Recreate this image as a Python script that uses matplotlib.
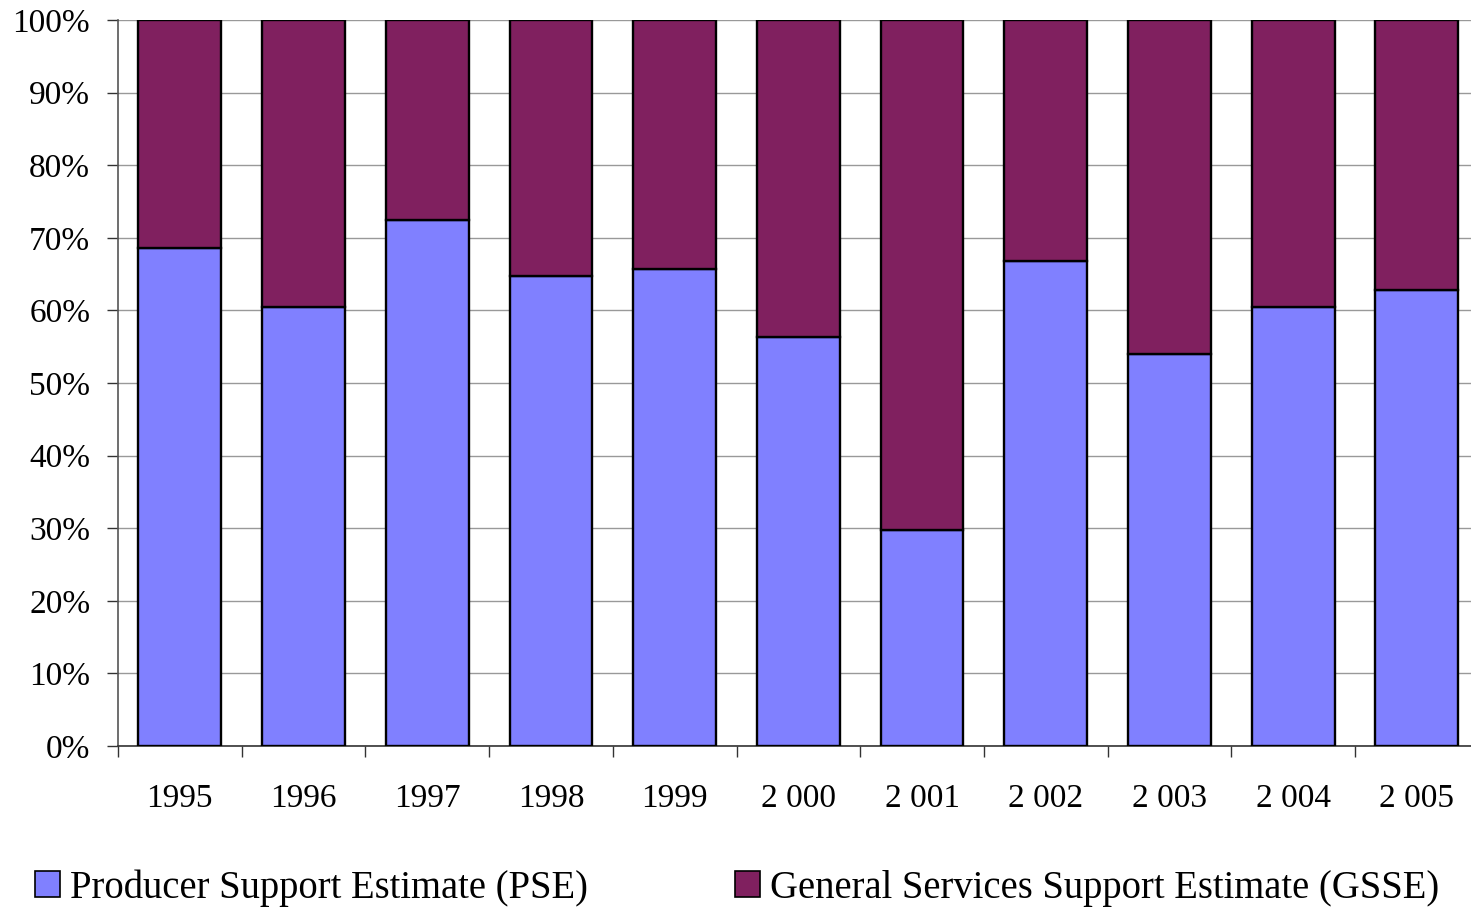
import matplotlib
matplotlib.use("Agg")
import matplotlib.pyplot as plt
from matplotlib.patches import Patch
import numpy as np

# share of total support, in %
years = ["1995", "1996", "1997", "1998", "1999", "2 000", "2 001", "2 002", "2 003", "2 004", "2 005"]
pse = [68.6, 60.5, 72.5, 64.7, 65.7, 56.3, 29.8, 66.8, 54.0, 60.5, 62.8]
gsse = [100 - v for v in pse]

pse_color = "#8080FF"
gsse_color = "#80205F"

plt.rcParams['font.family'] = ['Liberation Serif', 'DejaVu Serif']

W, H = 1471, 908
fig = plt.figure(figsize=(W / 100, H / 100), dpi=100)
# axes runs slightly past the right edge of the image, as in the original
ax = fig.add_axes([118 / W, (H - 746) / H, 11 * 123.7 / W, (746 - 20) / H])

x = np.arange(len(years))
ax.bar(x, pse, width=0.67, color=pse_color, edgecolor="black", linewidth=1.7, zorder=3)
ax.bar(x, gsse, bottom=pse, width=0.67, color=gsse_color, edgecolor="black", linewidth=1.7, zorder=3)

ax.set_ylim(0, 100)
ax.set_xlim(-0.5, 10.5)
ax.set_yticks(np.arange(0, 101, 10))
ax.set_yticklabels([f"{v}%" for v in range(0, 101, 10)])
ax.yaxis.grid(True, color="#999999", linewidth=1.0, zorder=0)

# category labels between boundary ticks
ax.set_xticks(x)
ax.set_xticklabels(years)
ax.set_xticks(np.arange(-0.5, len(years), 1), minor=True)
ax.tick_params(axis="x", which="major", length=0, pad=27, labelsize=24)
ax.tick_params(axis="x", which="minor", length=8, width=1.0, direction="out", color="#333333")
ax.tick_params(axis="y", length=8, width=1.0, direction="out", pad=12, labelsize=24, color="#333333")

for s in ["top", "right"]:
    ax.spines[s].set_visible(False)
ax.spines["left"].set_color("#555555")
ax.spines["left"].set_linewidth(1.2)
ax.spines["bottom"].set_color("#333333")
ax.spines["bottom"].set_linewidth(1.2)

handles = [Patch(facecolor=pse_color, edgecolor="black", linewidth=1.2),
           Patch(facecolor=gsse_color, edgecolor="black", linewidth=1.2)]
fig.legend(handles, ["Producer Support Estimate (PSE)", "General Services Support Estimate (GSSE)"],
           loc="center left", bbox_to_anchor=(0.024, 0.022), ncol=2, frameon=False,
           fontsize=27.8, handlelength=0.65, handleheight=0.65, handletextpad=0.25,
           columnspacing=3.8, borderaxespad=0, borderpad=0)

fig.savefig("out.png", dpi=100)
